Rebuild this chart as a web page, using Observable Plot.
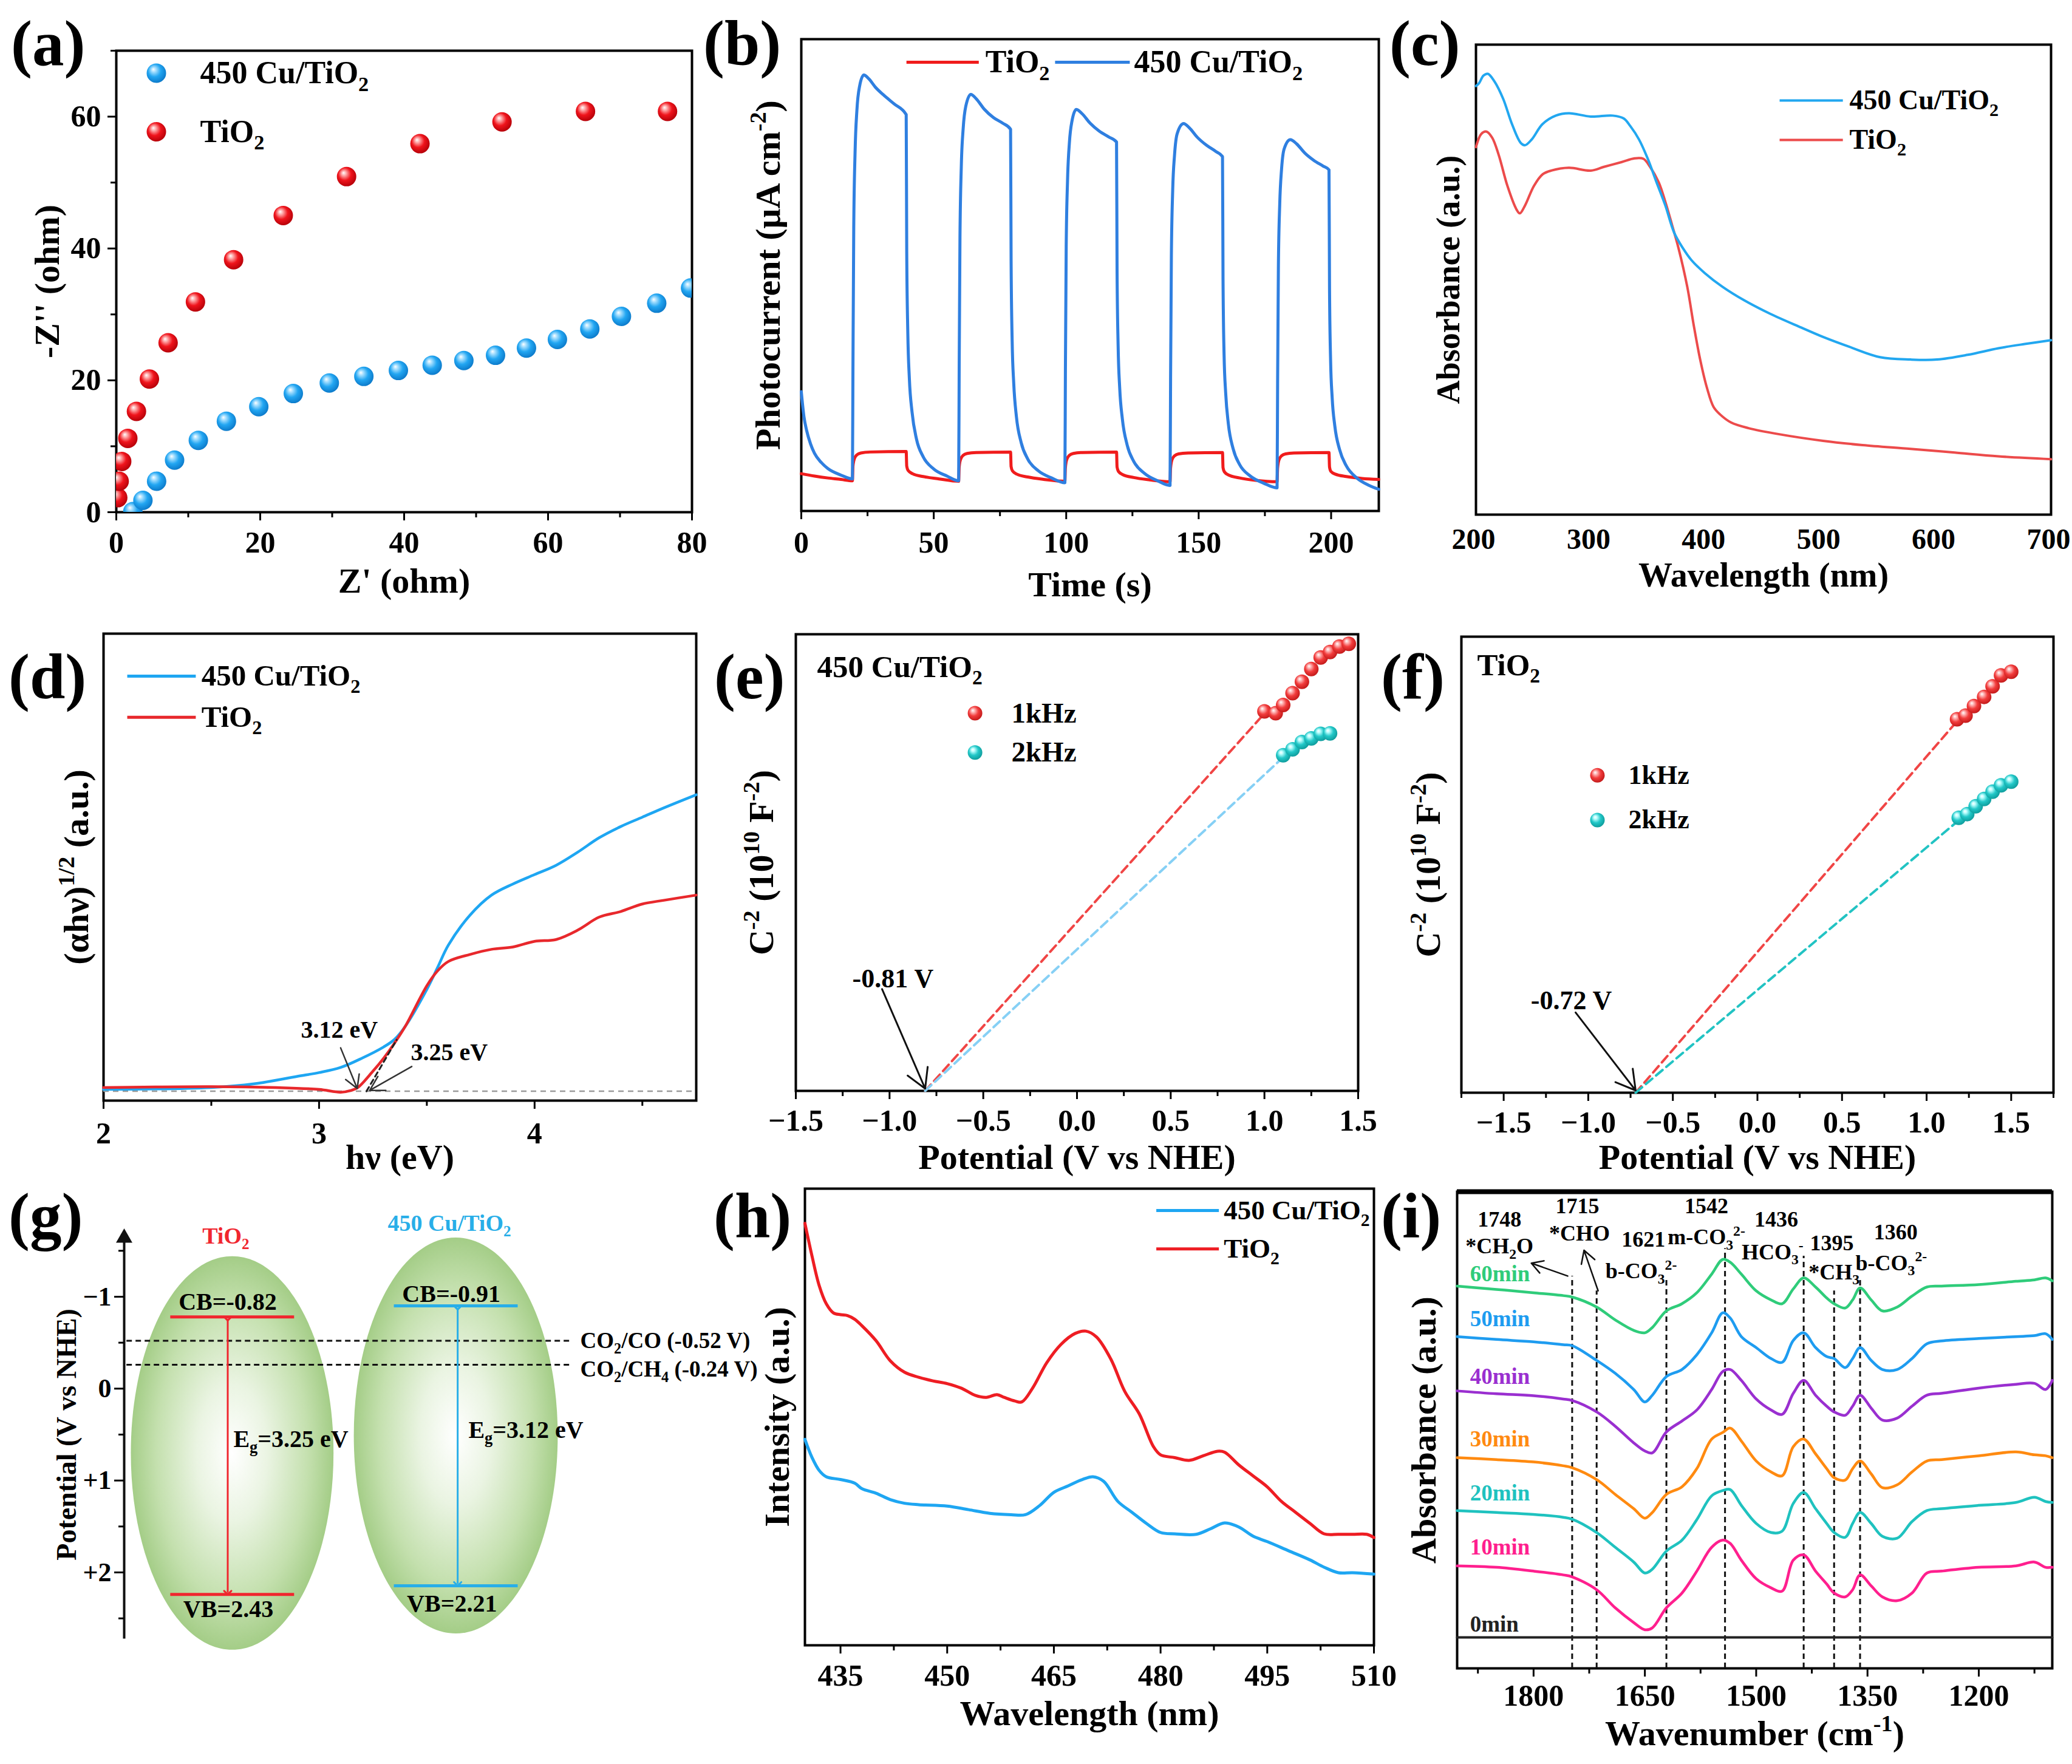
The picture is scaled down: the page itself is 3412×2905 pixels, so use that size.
<!DOCTYPE html>
<html><head><meta charset="utf-8">
<script src="https://cdn.jsdelivr.net/npm/d3@7"></script>
<script src="https://cdn.jsdelivr.net/npm/@observablehq/plot@0.6"></script>
<style>
html,body{margin:0;padding:0;background:#fff;}
#page{position:relative;width:3412px;height:2905px;background:#fff;overflow:hidden;}
.panel{position:absolute;}
.panel svg{display:block;max-width:none;}
.letter{position:absolute;font-family:'Liberation Serif','Times New Roman',serif;font-weight:bold;font-size:105px;line-height:1;white-space:nowrap;color:#000;}
</style></head>
<body><div id="page"></div>
<script>
// ---------------- DATA ----------------
// (a) Nyquist plot
const eisTiRe = [0.2, 0.4, 0.75, 1.6, 2.8, 4.6, 7.2, 11.0, 16.3, 23.2, 32.0, 42.2, 53.6, 65.2, 76.6];
const eisTiIm = [2.2, 4.7, 7.7, 11.2, 15.3, 20.2, 25.7, 31.9, 38.3, 45.0, 50.9, 55.9, 59.2, 60.8, 60.8];
const eisCuRe = [2.3, 3.7, 5.6, 8.1, 11.4, 15.3, 19.8, 24.6, 29.6, 34.4, 39.2, 43.9, 48.3, 52.7, 57.0, 61.3, 65.8, 70.2, 75.1, 79.8];
const eisCuIm = [0.1, 1.8, 4.7, 7.9, 10.9, 13.8, 16.0, 18.0, 19.6, 20.6, 21.5, 22.3, 23.0, 23.8, 24.9, 26.2, 27.8, 29.7, 31.7, 34.0];
const aTicks = [0, 20, 40, 60, 80], aYTicks = [0, 20, 40, 60];

// (b) transient photocurrent (arbitrary units)
const pcCuT = [0,1,2,3.5,5,7.5,10,15,19.3,
 19.5,19.8,20.3,21,22,23.6,25.5,28,31,35,39.6,
 39.8,40.2,40.8,41.8,43.5,46,50,55,59.4,
 59.6,59.9,60.4,61.1,62.1,64,66,69,72.5,76,79,
 79.2,79.6,80.2,81.2,83,85.5,89.5,94.5,99.5,
 99.7,100,100.5,101.2,102.2,103.8,106,109,112.5,116,119,
 119.2,119.6,120.2,121.2,123,125.5,129.5,134.5,139.2,
 139.4,139.7,140.2,140.9,141.9,144.3,146.5,149.5,153,156.5,159,
 159.2,159.6,160.2,161.2,163,165.5,169.5,174.5,179.6,
 179.8,180.1,180.6,181.3,182.3,184.6,187,190,193.5,197,199.2,
 199.4,199.8,200.4,201.4,203.2,205.7,209.7,214,218];
const pcCuI = [25.3,20,17.1,14.2,12.2,10.3,9.0,7.6,6.8,
 30,60,76,85,90,92.4,91.6,89.8,88.2,86.3,84.0,
 55,38,28,21,15.2,11.5,8.9,7.4,6.4,
 30,58,73,81,85.8,88.3,87.4,85.2,83.4,82.2,80.9,
 53,36,27,20,14.5,11,8.5,7.0,6.0,
 30,56,70,78,82.7,85.1,84.2,82.2,80.5,79.3,78.2,
 51,35,26,19.5,14,10.5,8.0,6.4,5.4,
 28,54,68,75.5,80,82.1,81.2,79.2,77.5,76.2,75.1,
 49,33,25,18.5,13.2,9.8,7.4,5.9,4.9,
 27,52,65,72.5,76.8,78.7,77.8,75.9,74.3,73.1,72.3,
 47,32,24,18,13,9.6,7.0,5.5,4.6];
const pcTiT = [0,5,10,15,19.3, 19.5,20,21,22.5,26,39.6, 39.8,40.3,42,46,52,59.4, 59.6,60.1,61.1,62.6,66,79,
 79.2,79.7,81.4,85.5,91.5,99.5, 99.7,100.2,101.2,102.7,106,119, 119.2,119.7,121.4,125.5,131.5,139.2,
 139.4,139.9,140.9,142.4,146,159, 159.2,159.7,161.4,165.5,171.5,179.6, 179.8,180.3,181.3,182.8,186,199.2,
 199.4,199.9,201.6,205.7,211.7,218];
const pcTiI = [7.9,7.4,7.0,6.7,6.4, 9.5,11.0,11.9,12.3,12.5,12.6, 9.5,8.6,7.9,7.3,6.8,6.3, 9.3,10.9,11.8,12.2,12.4,12.5,
 9.4,8.5,7.8,7.2,6.7,6.3, 9.2,10.9,11.8,12.2,12.4,12.5, 9.3,8.4,7.7,7.1,6.6,6.2,
 9.1,10.8,11.7,12.1,12.3,12.4, 9.2,8.3,7.6,7.0,6.5,6.2, 9.1,10.8,11.7,12.1,12.3,12.4,
 9.3,8.4,7.8,7.3,6.9,6.7];
const bTicks = [0, 50, 100, 150, 200];

// (c) UV-vis absorbance
const uvCuW = [200,202.7,206.5,210.3,216.0,223.6,231.3,238.9,242.7,248.4,257.9,269.4,280.8,299.8,318.9,328.4,334.1,341.8,349.4,357.0,364.6,372.3,379.9,387.5,398.9,414.2,433.2,456.1,482.8,501.8,524.7,551.4,578.0,600.9,627.6,654.3,677.1,700];
const uvCuA = [91.2,91.8,93.4,93.8,92.2,88.5,83.1,79.1,78.6,79.8,83.1,84.9,85.4,84.7,84.9,84.3,82.7,79.8,75.7,70.7,65.8,60.0,56.7,54.1,51.4,48.5,45.6,42.7,39.8,37.8,35.7,33.5,33.0,33.0,34.0,35.4,36.3,37.1];
const uvTiW = [200,204.6,209.1,214.1,219.8,227.4,235.1,238.1,242.7,250.3,257.9,265.5,280.8,299.8,311.3,326.5,338.0,345.6,351.3,358.9,364.6,370.4,376.1,383.7,389.4,395.1,400.8,406.6,412.3,421.8,437.0,463.7,501.8,536.1,578.0,616.2,654.3,700];
const uvTiA = [78.2,81.0,81.5,80.2,76.5,69.9,65.0,64.1,65.8,69.9,72.4,73.2,73.8,73.2,74.0,75.0,75.8,75.7,74.0,70.7,66.6,61.7,56.7,48.5,40.2,32.8,27.0,22.9,21.3,19.6,18.4,17.1,15.7,14.8,14.0,13.2,12.4,11.8];
const cTicks = [200, 300, 400, 500, 600, 700];

// (d) Tauc plot
const taucCuE = [2.0,2.5,2.7,2.9,3.0,3.1,3.2,3.3,3.35,3.4,3.5,3.55,3.6,3.7,3.8,3.9,4.0,4.1,4.2,4.3,4.4,4.5,4.6,4.75];
const taucCuY = [2.4,2.8,3.6,5.2,6.0,7.1,9.1,11.5,13.1,15.9,23.8,28.5,33.3,39.7,44.0,46.4,48.4,50.4,53.2,56.3,58.7,60.7,62.7,65.5];
const taucTiE = [2.0,2.5,2.8,3.0,3.1,3.15,3.18,3.25,3.3,3.35,3.4,3.5,3.55,3.6,3.7,3.8,3.9,4.0,4.1,4.2,4.3,4.4,4.5,4.6,4.75];
const taucTiY = [2.8,3.0,2.8,2.4,1.8,2.2,2.8,6.3,9.1,12.3,15.9,24.6,27.8,29.8,31.3,32.4,32.9,34.1,34.5,36.5,39.3,40.5,42.1,42.9,44.0];
const taucBaseline = 2.0;
const taucTangentE = [3.22, 3.36], taucTangentY = [2.0, 13.0];
const gapLabels = ["3.12 eV", "3.25 eV"];
const dTicks = [2, 3, 4];

// (e) Mott-Schottky 450 Cu/TiO2
const msCu1kV = [1.00, 1.06, 1.10, 1.15, 1.20, 1.25, 1.30, 1.35, 1.40, 1.45];
const msCu1kC = [83.1, 82.7, 84.5, 87.1, 89.6, 92.4, 94.9, 96.1, 97.3, 97.9];
const msCu2kV = [1.10, 1.15, 1.20, 1.25, 1.30, 1.35];
const msCu2kC = [73.5, 74.8, 76.4, 77.2, 78.2, 78.3];
const fitCu1kV = [-0.81, 0.99], fitCu1kC = [0, 82.2];
const fitCu2kV = [-0.81, 1.096], fitCu2kC = [0, 72.9];
// (f) Mott-Schottky TiO2
const msTi1kV = [1.18, 1.23, 1.28, 1.34, 1.39, 1.44, 1.50];
const msTi1kC = [81.9, 82.7, 84.8, 86.8, 89.1, 91.5, 92.3];
const msTi2kV = [1.19, 1.24, 1.29, 1.34, 1.39, 1.44, 1.50];
const msTi2kC = [60.3, 61.1, 62.8, 64.4, 66.0, 67.4, 68.2];
const fitTi1kV = [-0.72, 1.181], fitTi1kC = [0, 81.5];
const fitTi2kV = [-0.72, 1.189], fitTi2kC = [0, 59.7];
const msTicks = [-1.5, -1.0, -0.5, 0.0, 0.5, 1.0, 1.5];
const fbLabels = ["-0.81 V", "-0.72 V"];

// (g) band structure
const bandMaterials = ["TiO_{2}", "450 Cu/TiO_{2}"];
const bandCB = [-0.78, -0.90];        // drawn level positions (V vs NHE)
const bandVB = [2.24, 2.145];
const cbLabels = ["CB=-0.82", "CB=-0.91"];
const vbLabels = ["VB=2.43", "VB=2.21"];
const egLabels = ["E_{g}=3.25 eV", "E_{g}=3.12 eV"];
const redoxPot = [-0.52, -0.26];
const redoxLabels = ["CO_{2}/CO (-0.52 V)", "CO_{2}/CH_{4} (-0.24 V)"];
const gTicks = [-1, 0, 1, 2];

// (h) PL spectra
const plTiW = [430,431,432,433,434,435,436,437,438,440,442,444,446,448,450,452,454,455.5,457,458,459.5,460.5,462,464,466,468,469.5,471,473,475,477,479,480,482,484,486,488,489,491,493,495,497,499,501,503,505,507,509,510];
const plTiI = [92.4,85.2,78.8,74.8,72.8,72.4,72.2,71.4,70.0,66.7,62.3,59.8,58.7,57.9,57.3,56.3,54.7,54.3,54.9,54.3,53.5,53.3,56.3,61.9,65.9,68.3,68.8,67.5,62.7,55.5,50.7,43.5,41.7,41.1,40.5,41.5,42.5,42.3,39.5,37.1,34.7,31.5,29.1,26.7,24.4,24.3,24.3,24.3,23.6];
const plCuW = [430,431,432,433,435,437,438,440,442,444,446,450,453,456,459,461,463,465,467,469,470.5,472,474,476,478,480,482,485,487,489,491,493,495,498,501,503,505,507,510];
const plCuI = [45.1,41.1,38.3,36.9,36.3,35.5,34.3,33.3,31.9,31.1,30.8,30.5,29.7,28.9,28.6,28.6,30.6,33.5,34.9,36.3,36.9,35.9,31.5,29.1,26.7,24.7,24.4,24.3,25.5,26.8,25.9,23.9,22.7,20.7,18.7,17.1,15.9,15.9,15.6];
const hTicks = [435, 450, 465, 480, 495, 510];

// (i) in-situ DRIFTS
const ftirW = [1903,1850,1800,1760,1748,1715,1690,1665,1650,1640,1621,1600,1580,1560,1545,1535,1520,1500,1480,1465,1450,1436,1420,1405,1395,1380,1370,1360,1345,1330,1310,1290,1270,1250,1200,1150,1125,1110,1101];
const ftir60 = [80.2,79.5,78.8,78.2,77.9,75.8,73.1,70.9,70.4,71.5,75.0,76.5,78.8,82.7,85.8,85.2,82.7,79.2,77.3,76.5,79.6,81.9,80.0,77.7,76.5,75.6,77.3,79.8,77.3,75.0,75.8,78.1,80.0,80.2,80.5,81.2,81.5,81.9,81.3];
const ftir50 = [69.6,69.0,68.5,67.9,67.7,64.6,61.9,58.5,55.9,57.3,61.2,62.7,65.8,70.4,74.6,73.5,69.6,67.3,65.0,64.2,68.8,70.4,67.3,65.4,65.0,63.1,65.0,67.3,64.6,62.7,62.7,65.0,68.1,68.7,69.2,69.6,69.8,70.2,69.0];
const ftir40 = [58.2,57.6,57.2,56.5,56.2,53.8,50.8,47.3,45.6,45.2,49.6,51.9,54.2,58.5,62.3,62.7,60.4,56.5,54.2,53.3,57.7,60.4,57.3,55.0,53.8,53.1,55.0,57.3,54.6,52.1,52.5,55.0,57.3,57.7,58.8,59.6,59.8,58.5,60.4];
const ftir30 = [44.2,43.8,43.3,42.5,42.1,39.6,36.5,33.5,31.5,32.7,36.5,38.1,41.9,48.1,49.5,50.4,47.7,43.5,41.2,40.4,46.5,48.1,45.0,41.9,40.0,39.5,41.9,43.5,40.8,37.9,38.5,41.2,43.5,43.8,44.6,45.4,44.8,44.6,44.2];
const ftir20 = [33.1,32.7,32.3,31.7,31.3,28.5,25.4,22.3,20.0,20.8,24.6,26.9,31.2,36.2,37.3,37.5,34.2,30.4,28.5,28.8,34.6,36.9,33.5,30.4,28.5,27.5,30.4,32.7,30.4,27.7,27.3,30.8,33.1,33.5,34.2,34.8,35.9,35.0,34.8];
const ftir10 = [21.5,21.2,20.4,19.6,19.2,16.5,12.7,9.6,8.1,8.5,12.7,15.8,20.4,25.4,26.9,26.2,22.7,18.8,16.9,16.2,22.7,23.8,20.4,17.7,15.8,15.0,16.5,19.6,17.3,15.0,14.2,15.8,20.0,20.4,21.2,21.5,22.3,21.2,21.2];
const ftir0W = [1903, 1101], ftir0 = [6.5, 6.5];
const ftirTimes = ["60min", "50min", "40min", "30min", "20min", "10min", "0min"];
const ftirTimeLabelY = [82.7, 73.3, 61.2, 48.1, 36.7, 25.4, 9.2];
const ftirPeaks = [1748, 1715, 1621, 1542, 1436, 1395, 1360];
const ftirPeakTop = [82.3, 79.2, 81.5, 88.1, 86.5, 79.2, 81.9];
const ftirPeakNames = ["*CH_{2}O", "*CHO", "b-CO_{3}^{2-}", "m-CO_{3}^{2-}", "HCO_{3}^{-}", "*CH_{3}", "b-CO_{3}^{2-}"];
const iTicks = [1800, 1650, 1500, 1350, 1200];

// ---------------- HELPERS ----------------
const NS = "http://www.w3.org/2000/svg";
const FONT = "'Liberation Serif','Times New Roman',serif";
const ST = {background: "transparent", fontFamily: FONT, fontWeight: "bold", overflow: "visible", maxWidth: "none"};
const page = document.getElementById("page");
const zip = (xs, ys) => xs.map((x, i) => ({x, y: ys[i]}));
const fmt1 = d3.format(".1f");

function xAxis(major, minor, pad, fmt, size = 14, fs = 50, dx = 0) {
  const m = [Plot.axisX({ticks: major, tickSize: size, tickPadding: pad, fontSize: fs, fontWeight: "bold", strokeWidth: 3, label: null, tickFormat: fmt, dx})];
  if (minor) m.push(Plot.axisX({ticks: minor, tickSize: 9, strokeWidth: 3, label: null, tickFormat: () => ""}));
  return m;
}
function yAxis(major, minor, pad, fmt) {
  const m = [Plot.axisY({ticks: major, tickSize: 14, tickPadding: pad, fontSize: 50, fontWeight: "bold", strokeWidth: 3, label: null, tickFormat: fmt})];
  if (minor) m.push(Plot.axisY({ticks: minor, tickSize: 9, strokeWidth: 3, label: null, tickFormat: () => ""}));
  return m;
}
const xLabel = (s, dy, fs = 58) => Plot.text([s], {text: d => d, frameAnchor: "bottom", dy, fontSize: fs, fontWeight: "bold", textAnchor: "middle", lineAnchor: "middle"});
const yLabel = (s, dx, fs = 58) => Plot.text([s], {text: d => d, frameAnchor: "left", dx, rotate: -90, fontSize: fs, fontWeight: "bold", textAnchor: "middle", lineAnchor: "middle"});
const txt = (rows, o) => Plot.text(rows, {x: "x", y: "y", text: "t", fontWeight: "bold", ...o});
const keyLine = (x1, x2, y, stroke, w) => Plot.link([{x1, x2, y}], {x1: "x1", x2: "x2", y1: "y", y2: "y", stroke, strokeWidth: w});

function radial(id, stops, fx = 0.34, fy = 0.3) {
  return `<radialGradient id="${id}" cx="0.45" cy="0.42" r="0.6" fx="${fx}" fy="${fy}">` +
    stops.map(([o, c]) => `<stop offset="${o}" stop-color="${c}"/>`).join("") + `</radialGradient>`;
}
const sphere = (id, light, mid, dark) => radial(id, [[0, "#ffffff"], [0.18, light], [0.55, mid], [1, dark]]);

function rich(svg) {
  svg.querySelectorAll("text").forEach(t => {
    if (t.querySelector("tspan")) return;
    const s = t.textContent;
    if (!/[_^]\{/.test(s)) return;
    while (t.firstChild) t.removeChild(t.firstChild);
    const re = /([_^])\{([^}]*)\}/g;
    let last = 0, cur = 0, m;
    const add = (str, shift, small) => {
      const sp = document.createElementNS(NS, "tspan");
      const f = small ? 0.66 : 1;
      if (small) sp.setAttribute("font-size", "66%");
      const d = shift - cur;
      if (Math.abs(d) > 1e-6) sp.setAttribute("dy", (d / f).toFixed(3) + "em");
      cur = shift;
      sp.textContent = str;
      t.appendChild(sp);
    };
    while ((m = re.exec(s))) {
      if (m.index > last) add(s.slice(last, m.index), 0, false);
      add(m[2], m[1] === "_" ? 0.24 : -0.4, true);
      last = re.lastIndex;
    }
    if (last < s.length) add(s.slice(last), 0, false);
  });
}
function put(svg, left, top, w, h, defsHtml) {
  if (defsHtml) { const d = document.createElementNS(NS, "defs"); d.innerHTML = defsHtml; svg.insertBefore(d, svg.firstChild); }
  rich(svg);
  const div = document.createElement("div");
  div.className = "panel";
  Object.assign(div.style, {left: left + "px", top: top + "px", width: w + "px", height: h + "px"});
  div.appendChild(svg);
  page.appendChild(div);
}

// ---------------- (a) ----------------
put(Plot.plot({
  width: 1160, height: 1000, marginLeft: 191, marginRight: 21, marginTop: 83, marginBottom: 157,
  style: ST, x: {domain: [0, 80]}, y: {domain: [0, 70]},
  marks: [
    Plot.frame({strokeWidth: 4}),
    xAxis(aTicks, [10, 30, 50, 70], 17),
    yAxis(aYTicks, [10, 30, 50, 70], 11),
    Plot.dot(zip(eisCuRe, eisCuIm), {x: "x", y: "y", r: 16, fill: "url(#gA-blue)", clip: true}),
    Plot.dot(zip(eisTiRe, eisTiIm), {x: "x", y: "y", r: 16, fill: "url(#gA-red)", clip: true}),
    Plot.dot([{x: 5.57, y: 66.6}], {x: "x", y: "y", r: 16, fill: "url(#gA-blue)"}),
    Plot.dot([{x: 5.57, y: 57.7}], {x: "x", y: "y", r: 16, fill: "url(#gA-red)"}),
    txt([{x: 11.65, y: 66.6, t: "450 Cu/TiO_{2}"}, {x: 11.65, y: 57.7, t: "TiO_{2}"}], {textAnchor: "start", fontSize: 52}),
    xLabel("Z' (ohm)", 114),
    yLabel("-Z'' (ohm)", -113)
  ]
}), 0, 0, 1160, 1000,
  sphere("gA-blue", "#aee2ff", "#22a6f2", "#0b78c8") + sphere("gA-red", "#ffb3b3", "#f0141c", "#b30008"));

// ---------------- (b) ----------------
put(Plot.plot({
  width: 1130, height: 1000, marginLeft: 159, marginRight: 20, marginTop: 64, marginBottom: 159,
  style: ST, x: {domain: [0, 218]}, y: {domain: [0, 100], axis: null},
  marks: [
    Plot.frame({strokeWidth: 4}),
    xAxis(bTicks, [25, 75, 125, 175], 19),
    Plot.line(zip(pcTiT, pcTiI), {x: "x", y: "y", stroke: "#f01c1c", strokeWidth: 5, curve: "monotone-x"}),
    Plot.line(zip(pcCuT, pcCuI), {x: "x", y: "y", stroke: "#2f7fe0", strokeWidth: 5, curve: "monotone-x"}),
    keyLine(39.7, 67.0, 95.1, "#f01c1c", 5),
    keyLine(95.8, 124.0, 95.1, "#2f7fe0", 5),
    txt([{x: 69.5, y: 95.1, t: "TiO_{2}"}, {x: 125.6, y: 95.1, t: "450 Cu/TiO_{2}"}], {textAnchor: "start", fontSize: 52}),
    xLabel("Time (s)", 122),
    yLabel("Photocurrent (\u03bcA cm^{-2})", -54)
  ]
}), 1160, 0, 1130, 1000);

// ---------------- (c) ----------------
put(Plot.plot({
  width: 1122, height: 1000, marginLeft: 140, marginRight: 35, marginTop: 73, marginBottom: 153,
  style: ST, x: {domain: [200, 700]}, y: {domain: [0, 100], axis: null},
  marks: [
    Plot.frame({strokeWidth: 4}),
    xAxis(cTicks, null, 22, d3.format("d"), 0, 48, -4),
    Plot.line(zip(uvTiW, uvTiA), {x: "x", y: "y", stroke: "#ec4b4b", strokeWidth: 4, curve: "catmull-rom"}),
    Plot.line(zip(uvCuW, uvCuA), {x: "x", y: "y", stroke: "#22a7f0", strokeWidth: 4, curve: "catmull-rom"}),
    keyLine(464, 519, 88.1, "#22a7f0", 4),
    keyLine(464, 519, 79.7, "#ec4b4b", 4),
    txt([{x: 524.7, y: 88.1, t: "450 Cu/TiO_{2}"}, {x: 524.7, y: 79.7, t: "TiO_{2}"}], {textAnchor: "start", fontSize: 46}),
    xLabel("Wavelength (nm)", 101, 56),
    yLabel("Absorbance (a.u.)", -45, 54)
  ]
}), 2290, 0, 1122, 1000);

// ---------------- (d) ----------------
put(Plot.plot({
  width: 1160, height: 960, marginLeft: 170, marginRight: 14, marginTop: 43, marginBottom: 148,
  style: ST, x: {domain: [2, 4.75]}, y: {domain: [0, 100], axis: null},
  marks: [
    Plot.frame({strokeWidth: 4}),
    xAxis(dTicks, [2.5, 3.5, 4.5], 21, d3.format("d")),
    Plot.ruleY([taucBaseline], {stroke: "#9a9a9a", strokeWidth: 2.5, strokeDasharray: "9,7"}),
    Plot.line(zip(taucCuE, taucCuY), {x: "x", y: "y", stroke: "#1ea6f2", strokeWidth: 4.5, curve: "catmull-rom"}),
    Plot.line(zip(taucTiE, taucTiY), {x: "x", y: "y", stroke: "#e8282c", strokeWidth: 4.5, curve: "catmull-rom"}),
    Plot.line(zip(taucTangentE, taucTangentY), {x: "x", y: "y", stroke: "#222", strokeWidth: 3, strokeDasharray: "8,6"}),
    Plot.arrow([{x1: 3.10, y1: 11.3, x2: 3.177, y2: 2.6}, {x1: 3.43, y1: 7.3, x2: 3.235, y2: 2.2}],
      {x1: "x1", y1: "y1", x2: "x2", y2: "y2", stroke: "#333", strokeWidth: 2.5, headLength: 16}),
    txt([{x: 3.094, y: 15.1, t: gapLabels[0]}, {x: 3.604, y: 10.3, t: gapLabels[1]}], {fontSize: 40}),
    keyLine(2.11, 2.428, 90.9, "#1ea6f2", 5),
    keyLine(2.11, 2.428, 82.1, "#e8282c", 5),
    txt([{x: 2.454, y: 90.9, t: "450 Cu/TiO_{2}"}, {x: 2.454, y: 82.1, t: "TiO_{2}"}], {textAnchor: "start", fontSize: 49}),
    xLabel("h\u03bd (eV)", 94),
    yLabel("(\u03b1h\u03bd)^{1/2} (a.u.)", -44)
  ]
}), 0, 1000, 1160, 960);

// ---------------- (e) ----------------
put(Plot.plot({
  width: 1120, height: 960, marginLeft: 150, marginRight: 44, marginTop: 44, marginBottom: 164,
  style: ST, x: {domain: [-1.5, 1.5]}, y: {domain: [0, 100], axis: null},
  marks: [
    Plot.frame({strokeWidth: 4}),
    xAxis(msTicks, [-1.25, -0.75, -0.25, 0.25, 0.75, 1.25], 16, fmt1),
    Plot.line(zip(fitCu1kV, fitCu1kC), {x: "x", y: "y", stroke: "#f04545", strokeWidth: 4, strokeDasharray: "14,8"}),
    Plot.line(zip(fitCu2kV, fitCu2kC), {x: "x", y: "y", stroke: "#86d0f5", strokeWidth: 4, strokeDasharray: "14,8"}),
    Plot.dot(zip(msCu1kV, msCu1kC), {x: "x", y: "y", r: 12, fill: "url(#gE-red)"}),
    Plot.dot(zip(msCu2kV, msCu2kC), {x: "x", y: "y", r: 12, fill: "url(#gE-cyan)"}),
    Plot.dot([{x: -0.544, y: 82.7}], {x: "x", y: "y", r: 12, fill: "url(#gE-red)"}),
    Plot.dot([{x: -0.544, y: 74.1}], {x: "x", y: "y", r: 12, fill: "url(#gE-cyan)"}),
    txt([{x: -0.35, y: 82.7, t: "1kHz"}, {x: -0.35, y: 74.1, t: "2kHz"}], {textAnchor: "start", fontSize: 47}),
    txt([{x: -1.387, y: 92.8, t: "450 Cu/TiO_{2}"}], {textAnchor: "start", fontSize: 51}),
    Plot.arrow([{x1: -1.04, y1: 22.3, x2: -0.81, y2: 0.5}], {x1: "x1", y1: "y1", x2: "x2", y2: "y2", stroke: "#111", strokeWidth: 3, headLength: 18}),
    txt([{x: -0.982, y: 24.6, t: fbLabels[0]}], {fontSize: 44}),
    xLabel("Potential (V vs NHE)", 110),
    yLabel("C^{-2} (10^{10} F^{-2})", -56)
  ]
}), 1160, 1000, 1120, 960,
  sphere("gE-red", "#ffc0c0", "#f23c3c", "#c01818") + sphere("gE-cyan", "#c0ffff", "#22c8c8", "#0e9a9a"));

// ---------------- (f) ----------------
put(Plot.plot({
  width: 1132, height: 960, marginLeft: 126, marginRight: 31, marginTop: 48, marginBottom: 161,
  style: ST, x: {domain: [-1.75, 1.75]}, y: {domain: [0, 100], axis: null},
  marks: [
    Plot.frame({strokeWidth: 4}),
    xAxis(msTicks, [-1.75, -1.25, -0.75, -0.25, 0.25, 0.75, 1.25, 1.75], 16, fmt1),
    Plot.line(zip(fitTi1kV, fitTi1kC), {x: "x", y: "y", stroke: "#f04545", strokeWidth: 4, strokeDasharray: "14,8"}),
    Plot.line(zip(fitTi2kV, fitTi2kC), {x: "x", y: "y", stroke: "#22c3c3", strokeWidth: 4, strokeDasharray: "14,8"}),
    Plot.dot(zip(msTi1kV, msTi1kC), {x: "x", y: "y", r: 12, fill: "url(#gF-red)"}),
    Plot.dot(zip(msTi2kV, msTi2kC), {x: "x", y: "y", r: 12, fill: "url(#gF-cyan)"}),
    Plot.dot([{x: -0.946, y: 69.6}], {x: "x", y: "y", r: 12, fill: "url(#gF-red)"}),
    Plot.dot([{x: -0.946, y: 59.8}], {x: "x", y: "y", r: 12, fill: "url(#gF-cyan)"}),
    txt([{x: -0.763, y: 69.6, t: "1kHz"}, {x: -0.763, y: 59.8, t: "2kHz"}], {textAnchor: "start", fontSize: 44}),
    txt([{x: -1.657, y: 93.7, t: "TiO_{2}"}], {textAnchor: "start", fontSize: 51}),
    Plot.arrow([{x1: -1.075, y1: 17.6, x2: -0.72, y2: 0.5}], {x1: "x1", y1: "y1", x2: "x2", y2: "y2", stroke: "#111", strokeWidth: 3, headLength: 18}),
    txt([{x: -1.10, y: 20.2, t: fbLabels[1]}], {fontSize: 44}),
    xLabel("Potential (V vs NHE)", 107),
    yLabel("C^{-2} (10^{10} F^{-2})", -54)
  ]
}), 2280, 1000, 1132, 960,
  sphere("gF-red", "#ffc0c0", "#f23c3c", "#c01818") + sphere("gF-cyan", "#c0ffff", "#22c8c8", "#0e9a9a"));

// ---------------- (g) ----------------
const ellipseSymbol = {
  draw(ctx, size) {
    const ry = Math.sqrt(size / Math.PI), rx = ry * 0.515, k = 0.5523;
    ctx.moveTo(rx, 0);
    ctx.bezierCurveTo(rx, k * ry, k * rx, ry, 0, ry);
    ctx.bezierCurveTo(-k * rx, ry, -rx, k * ry, -rx, 0);
    ctx.bezierCurveTo(-rx, -k * ry, -k * rx, -ry, 0, -ry);
    ctx.bezierCurveTo(k * rx, -ry, rx, -k * ry, rx, 0);
    ctx.closePath();
  }
};
const gLayout = [
  {cx: 1.70, cy: 0.70, r: 324, color: "#f0262e", arrowX: 1.63, headY: -1.66, cbY: -0.94, vbY: 2.40, egX: 1.72, egY: 0.55},
  {cx: 5.22, cy: 0.51, r: 326, color: "#28aee8", arrowX: 5.25, headY: -1.80, cbY: -1.03, vbY: 2.34, egX: 5.42, egY: 0.45}
];
const gMarks = [];
gLayout.forEach((L) => {
  gMarks.push(Plot.dot([L], {x: "cx", y: "cy", r: L.r, symbol: ellipseSymbol, fill: "url(#gG-ell)"}));
});
gMarks.push(Plot.ruleY(redoxPot, {y: d => d, x1: 0.04, x2: 7.03, stroke: "#111", strokeWidth: 3, strokeDasharray: "9,6"}));
gLayout.forEach((L, i) => {
  gMarks.push(
    Plot.link([{a: L.cx - 0.975, b: L.cx + 0.975, y: bandCB[i]}, {a: L.cx - 0.975, b: L.cx + 0.975, y: bandVB[i]}],
      {x1: "a", x2: "b", y1: "y", y2: "y", stroke: L.color, strokeWidth: 5}),
    Plot.link([{x: L.arrowX, y1: bandCB[i] + 0.02, y2: bandVB[i] - 0.02}],
      {x1: "x", x2: "x", y1: "y1", y2: "y2", stroke: L.color, strokeWidth: 3, markerStart: "arrow", markerEnd: "arrow"}),
    txt([{x: L.cx - 0.1, y: L.headY, t: bandMaterials[i]}], {fill: L.color, fontSize: 38}),
    txt([{x: L.cx - 0.07, y: L.cbY, t: cbLabels[i]}, {x: L.cx - 0.06, y: L.vbY, t: vbLabels[i]}], {fontSize: 40}),
    txt([{x: L.egX, y: L.egY, t: egLabels[i]}], {textAnchor: "start", fontSize: 40})
  );
});
gMarks.push(
  txt(redoxLabels.map((t, i) => ({x: 7.18, y: redoxPot[i] + (i === 1 ? 0.05 : 0), t})), {textAnchor: "start", fontSize: 37}),
  Plot.link([{x: 0, y1: 2.72, y2: -1.62}], {x1: "x", x2: "x", y1: "y1", y2: "y2", stroke: "#111", strokeWidth: 4}),
  Plot.dot([{x: 0, y: -1.64}], {x: "x", y: "y", symbol: "triangle", r: 10, fill: "#111"}),
  Plot.axisY({anchor: "left", ticks: gTicks, tickSize: 16, tickPadding: 5, fontSize: 44, fontWeight: "bold", strokeWidth: 3, label: null,
    tickFormat: d => d > 0 ? "+" + d : d < 0 ? "\u2212" + (-d) : "0"}),
  Plot.axisY({anchor: "left", ticks: [-1.5, -0.5, 0.5, 1.5, 2.5], tickSize: 9, strokeWidth: 3, label: null, tickFormat: () => ""}),
  yLabel("Potential (V vs NHE)", -94, 46)
);
put(Plot.plot({
  width: 1250, height: 945, marginLeft: 204, marginRight: 0, marginTop: 66, marginBottom: 207,
  style: ST, x: {domain: [0, 10], axis: null}, y: {domain: [-1.72, 2.72], reverse: true},
  marks: gMarks
}), 0, 1960, 1250, 945,
  `<radialGradient id="gG-ell" cx="0.5" cy="0.5" r="0.5"><stop offset="0" stop-color="#ffffff"/><stop offset="0.35" stop-color="#eaf4e2"/><stop offset="0.75" stop-color="#c4e0ae"/><stop offset="1" stop-color="#a4cd87"/></radialGradient>`);

// ---------------- (h) ----------------
put(Plot.plot({
  width: 1030, height: 965, marginLeft: 75, marginRight: 18, marginTop: 17, marginBottom: 196,
  style: ST, x: {domain: [430, 510]}, y: {domain: [0, 100], axis: null},
  marks: [
    Plot.frame({strokeWidth: 4}),
    xAxis(hTicks, [442.5, 457.5, 472.5, 487.5, 502.5], 17),
    Plot.line(zip(plTiW, plTiI), {x: "x", y: "y", stroke: "#ee1d23", strokeWidth: 5, curve: "catmull-rom"}),
    Plot.line(zip(plCuW, plCuI), {x: "x", y: "y", stroke: "#1ea6f2", strokeWidth: 5, curve: "catmull-rom"}),
    keyLine(479.4, 488.2, 95.2, "#1ea6f2", 5),
    keyLine(479.4, 488.2, 86.8, "#ee1d23", 5),
    txt([{x: 488.9, y: 95.2, t: "450 Cu/TiO_{2}"}, {x: 488.9, y: 86.8, t: "TiO_{2}"}], {textAnchor: "start", fontSize: 45}),
    xLabel("Wavelength (nm)", 113),
    yLabel("Intensity (a.u.)", -45)
  ]
}), 1250, 1940, 1030, 965);

// ---------------- (i) ----------------
const ftirSeries = [
  {y: ftir60, c: "#2fcc7a"}, {y: ftir50, c: "#1e9cf0"}, {y: ftir40, c: "#9a2fd0"},
  {y: ftir30, c: "#ff8a10"}, {y: ftir20, c: "#1fc2bf"}, {y: ftir10, c: "#ff1f8e"}
];
const ftirLabelColors = ["#2fcc7a", "#1e9cf0", "#9a2fd0", "#ff8a10", "#1fc2bf", "#ff1f8e", "#222"];
const ftirNumPos = [[1846, 94.2], [1741, 96.9], [1652, 90.0], [1567, 96.9], [1473, 94.2], [1398, 89.2], [1312, 91.5]];
const ftirNamePos = [[1846, 88.5], [1738, 91.2], [1655, 83.3], [1567, 90.4], [1478, 87.3], [1395, 83.1], [1318, 85.0]];
put(Plot.plot({
  width: 1132, height: 965, marginLeft: 119, marginRight: 33, marginTop: 22, marginBottom: 158,
  style: ST, x: {domain: [1903, 1101]}, y: {domain: [0, 100], axis: null},
  marks: [
    Plot.frame({strokeWidth: 4}),
    Plot.ruleY([100], {strokeWidth: 8}),
    xAxis(iTicks, [1875, 1725, 1575, 1425, 1275, 1125], 12, d3.format("d")),
    Plot.ruleX(ftirPeaks.map((w, i) => ({w, top: ftirPeakTop[i]})), {x: "w", y1: 0, y2: "top", stroke: "#111", strokeWidth: 3, strokeDasharray: "9,6"}),
    Plot.line(zip(ftir0W, ftir0), {x: "x", y: "y", stroke: "#222", strokeWidth: 4}),
    ftirSeries.map(s => Plot.line(zip(ftirW, s.y), {x: "x", y: "y", stroke: s.c, strokeWidth: 4.5, curve: "catmull-rom"})),
    ftirTimes.map((t, i) => txt([{x: 1885.7, y: ftirTimeLabelY[i], t}], {textAnchor: "start", fill: ftirLabelColors[i], fontSize: 37})),
    txt(ftirPeaks.map((w, i) => ({x: ftirNumPos[i][0], y: ftirNumPos[i][1], t: String(w)})), {fontSize: 36}),
    txt(ftirPeakNames.map((t, i) => ({x: ftirNamePos[i][0], y: ftirNamePos[i][1], t})), {fontSize: 36}),
    Plot.arrow([{x1: 1754, y1: 82.3, x2: 1803, y2: 85.0}, {x1: 1713, y1: 79.2, x2: 1732, y2: 87.7}],
      {x1: "x1", y1: "y1", x2: "x2", y2: "y2", stroke: "#111", strokeWidth: 2.5, headLength: 14}),
    xLabel("Wavenumber (cm^{-1})", 108),
    yLabel("Absorbance (a.u.)", -54)
  ]
}), 2280, 1940, 1132, 965);

// ---------------- panel letters ----------------
[["(a)", 18, 19], ["(b)", 1158, 19], ["(c)", 2288, 19],
 ["(d)", 14, 1062], ["(e)", 1176, 1062], ["(f)", 2274, 1062],
 ["(g)", 14, 1950], ["(h)", 1175, 1950], ["(i)", 2274, 1950]].forEach(([t, x, y]) => {
  const d = document.createElement("div");
  d.className = "letter"; d.textContent = t;
  d.style.left = x + "px"; d.style.top = y + "px";
  page.appendChild(d);
});
</script></body></html>
